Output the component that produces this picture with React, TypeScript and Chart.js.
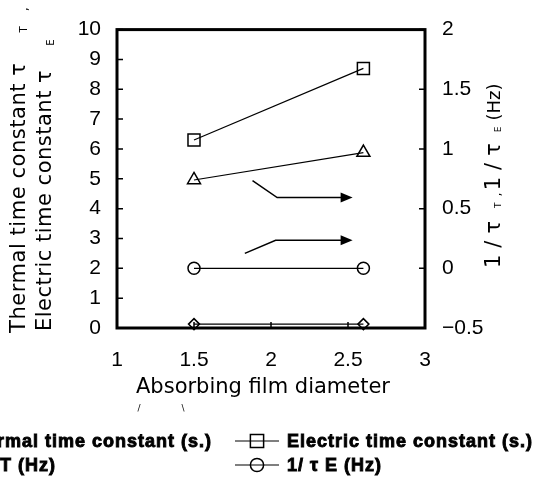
import React, { useEffect, useRef } from 'react';
import { Chart, registerables } from 'chart.js';

Chart.register(...registerables);

// ---- data ----
const diameters = [1.5, 2.6];
const thermalTimeConstant = [0.13, 0.13];
const electricTimeConstant = [6.3, 8.7];
const invTauT = [0.74, 0.97];
const invTauE = [0.0, 0.0];
const seriesLabels = ['Thermal time constant (s.)', 'Electric time constant (s.)', '1/ τ T (Hz)', '1/ τ E (Hz)'];
const xRange = [1, 3];
const leftRange = [0, 10];
const rightRange = [-0.5, 2];
const xTitle = 'Absorbing film diameter';
// arrow annotations, in (x, left-axis y) data coordinates
const arrowPaths = [
  [[1.88, 4.94], [2.04, 4.37], [2.53, 4.37]],
  [[1.83, 2.5], [2.03, 2.94], [2.53, 2.94]],
];

const TICK_FONT = '"Liberation Sans Narrow", "Liberation Sans", Arial, sans-serif';
const TITLE_FONT = '"DejaVu Sans", "Noto Sans CJK JP", sans-serif';
const LEGEND_FONT = '"Liberation Sans", Arial, sans-serif';

function markerPath(ctx: CanvasRenderingContext2D, style: string, x: number, y: number, r: number) {
  ctx.beginPath();
  if (style === 'circle') {
    ctx.arc(x, y, r, 0, Math.PI * 2);
  } else if (style === 'rect') {
    const s = r * Math.SQRT1_2;
    ctx.rect(x - s, y - s, 2 * s, 2 * s);
  } else if (style === 'triangle') {
    ctx.moveTo(x, y - r);
    ctx.lineTo(x + 0.866 * r, y + 0.5 * r);
    ctx.lineTo(x - 0.866 * r, y + 0.5 * r);
    ctx.closePath();
  } else if (style === 'rectRot') {
    ctx.moveTo(x, y - r);
    ctx.lineTo(x + r, y);
    ctx.lineTo(x, y + r);
    ctx.lineTo(x - r, y);
    ctx.closePath();
  }
  ctx.stroke();
}

type Part = { t?: string; size?: number; dy?: number; ls?: number; gap?: number };

function drawRotatedRich(
  ctx: CanvasRenderingContext2D,
  parts: Part[],
  baseX: number,
  y: number,
  baseSize: number,
  baseLs: number
) {
  ctx.save();
  ctx.translate(baseX, y);
  ctx.rotate(-Math.PI / 2);
  ctx.textBaseline = 'alphabetic';
  ctx.textAlign = 'left';
  let cx = 0;
  parts.forEach((p) => {
    if (p.gap) {
      cx += p.gap;
      return;
    }
    ctx.font = `${p.size || baseSize}px ${TITLE_FONT}`;
    (ctx as any).letterSpacing = (p.ls ?? baseLs) + 'px';
    ctx.fillText(p.t || '', cx, p.dy || 0);
    cx += ctx.measureText(p.t || '').width;
  });
  ctx.restore();
}

const decorPlugin = {
  id: 'decor',
  beforeDatasetsDraw(chart: any) {
    const { ctx, chartArea: a, scales } = chart;
    const x = scales.x, y = scales.y, y1 = scales.y1;
    ctx.save();
    ctx.strokeStyle = '#000';
    ctx.fillStyle = '#000';
    ctx.lineWidth = 1.5;
    const tl = 6;
    ctx.beginPath();
    y.ticks.forEach((t: any) => {
      const py = y.getPixelForValue(t.value);
      ctx.moveTo(a.left, py);
      ctx.lineTo(a.left + tl, py);
    });
    y1.ticks.forEach((t: any) => {
      const py = y1.getPixelForValue(t.value);
      ctx.moveTo(a.right - tl, py);
      ctx.lineTo(a.right, py);
    });
    x.ticks.forEach((t: any) => {
      const px = x.getPixelForValue(t.value);
      ctx.moveTo(px, a.bottom - tl);
      ctx.lineTo(px, a.bottom);
    });
    ctx.stroke();
    ctx.lineWidth = 3;
    ctx.strokeRect(a.left, a.top, a.right - a.left, a.bottom - a.top);

    // arrows
    ctx.lineWidth = 1.5;
    arrowPaths.forEach((path) => {
      const pts = path.map(([vx, vy]) => [x.getPixelForValue(vx), y.getPixelForValue(vy)]);
      ctx.beginPath();
      ctx.moveTo(pts[0][0], pts[0][1]);
      for (let i = 1; i < pts.length - 1; i++) ctx.lineTo(pts[i][0], pts[i][1]);
      const [ex, ey] = pts[pts.length - 1];
      ctx.lineTo(ex - 10, ey);
      ctx.stroke();
      ctx.beginPath();
      ctx.moveTo(ex, ey);
      ctx.lineTo(ex - 12, ey - 5);
      ctx.lineTo(ex - 12, ey + 5);
      ctx.closePath();
      ctx.fill();
    });
    ctx.restore();
  },
  afterDraw(chart: any) {
    const { ctx } = chart;
    ctx.save();
    ctx.fillStyle = '#000';
    // x title
    ctx.font = `21px ${TITLE_FONT}`;
    ctx.textAlign = 'center';
    ctx.textBaseline = 'middle';
    ctx.fillText(xTitle, 263, 388);
    ctx.font = `9px ${TITLE_FONT}`;
    ctx.fillText('/', 139, 409);
    ctx.fillText('\\', 183, 409);

    // left titles
    drawRotatedRich(ctx, [
      { t: 'Thermal time constant τ' },
      { gap: 30 },
      { t: 'T', size: 10, dy: 2, ls: 0 },
      { gap: 15 },
      { t: ',', size: 12, dy: 3, ls: 0 },
    ], 25, 333, 21, 0.55);
    drawRotatedRich(ctx, [
      { t: 'Electric time constant τ' },
      { gap: 24 },
      { t: 'E', size: 10, dy: 3, ls: 0 },
    ], 51, 331, 21, 0.5);

    // right title
    drawRotatedRich(ctx, [
      { t: '1/τ', size: 21, ls: 7 },
      { gap: 6 },
      { t: 'T', size: 9, dy: 1, ls: 0 },
      { gap: 6 },
      { t: ',', size: 13, dy: 1, ls: 0 },
      { gap: 2 },
      { t: '1/τ', size: 21, ls: 7 },
      { gap: 4 },
      { t: 'E', size: 9, dy: 1, ls: 0 },
      { gap: 6 },
      { t: '(Hz)', size: 18, ls: 0 },
    ], 500, 268, 21, 0);

    // legend
    const datasets = chart.data.datasets;
    const colMarker = [-68, 257];
    const rowY = [441, 465];
    ctx.font = `bold 18px ${LEGEND_FONT}`;
    (ctx as any).letterSpacing = '1px';
    ctx.textAlign = 'left';
    ctx.textBaseline = 'middle';
    ctx.strokeStyle = '#000';
    datasets.forEach((ds: any, i: number) => {
      const mx = colMarker[i % 2];
      const my = rowY[Math.floor(i / 2)];
      ctx.lineWidth = 1.2;
      ctx.beginPath();
      ctx.moveTo(mx - 22, my);
      ctx.lineTo(mx + 22, my);
      ctx.stroke();
      ctx.lineWidth = 1.5;
      markerPath(ctx, ds.pointStyle, mx, my, ds.pointRadius * 1.1);
      ctx.lineWidth = 0.9;
      ctx.fillText(ds.label, mx + 30, my + 1);
      ctx.strokeText(ds.label, mx + 30, my + 1);
    });
    ctx.restore();
  },
};

export default function App() {
  const ref = useRef<HTMLCanvasElement>(null);
  useEffect(() => {
    if (!ref.current) return;
    const mk = (vals: number[]) => diameters.map((d, i) => ({ x: d, y: vals[i] }));
    const base = {
      borderColor: '#000',
      borderWidth: 1.2,
      pointBorderColor: '#000',
      pointBackgroundColor: 'rgba(0,0,0,0)',
      pointBorderWidth: 1.5,
      fill: false,
      tension: 0,
      clip: false as any,
    };
    const tickFont = { family: TICK_FONT, size: 21 };
    const fmt = (v: any) => String(v).replace('-', '−');
    const chart = new Chart(ref.current, {
      type: 'line',
      data: {
        datasets: [
          { ...base, label: seriesLabels[0], data: mk(thermalTimeConstant), yAxisID: 'y', pointStyle: 'rectRot', pointRadius: 5.5 },
          { ...base, label: seriesLabels[1], data: mk(electricTimeConstant), yAxisID: 'y', pointStyle: 'rect', pointRadius: 8.5 },
          { ...base, label: seriesLabels[2], data: mk(invTauT), yAxisID: 'y1', pointStyle: 'triangle', pointRadius: 7.5 },
          { ...base, label: seriesLabels[3], data: mk(invTauE), yAxisID: 'y1', pointStyle: 'circle', pointRadius: 6 },
        ] as any,
      },
      options: {
        animation: false,
        responsive: false,
        maintainAspectRatio: false,
        layout: { padding: { top: 23, left: 0, right: 0, bottom: 0 } },
        plugins: { legend: { display: false }, tooltip: { enabled: false }, title: { display: false } },
        scales: {
          x: {
            type: 'linear',
            min: xRange[0],
            max: xRange[1],
            ticks: { stepSize: 0.5, padding: 20, color: '#000', font: tickFont, maxRotation: 0, callback: fmt },
            grid: { display: false, drawTicks: false },
            border: { display: false },
            afterFit: (s: any) => { s.height = 158; },
          },
          y: {
            type: 'linear',
            position: 'left',
            min: leftRange[0],
            max: leftRange[1],
            ticks: { stepSize: 1, padding: 16, color: '#000', font: tickFont, callback: fmt },
            grid: { display: false, drawTicks: false },
            border: { display: false },
            afterFit: (s: any) => { s.width = 117; },
          },
          y1: {
            type: 'linear',
            position: 'right',
            min: rightRange[0],
            max: rightRange[1],
            ticks: { stepSize: 0.5, padding: 17, color: '#000', font: tickFont, callback: fmt },
            grid: { display: false, drawTicks: false },
            border: { display: false },
            afterFit: (s: any) => { s.width = 115; },
          },
        },
      } as any,
      plugins: [decorPlugin],
    });
    return () => chart.destroy();
  }, []);
  return (
    <div style={{ position: 'absolute', left: 0, top: 0, width: 540, height: 486, background: '#fff' }}>
      <canvas ref={ref} width={540} height={486} style={{ display: 'block' }} />
    </div>
  );
}
